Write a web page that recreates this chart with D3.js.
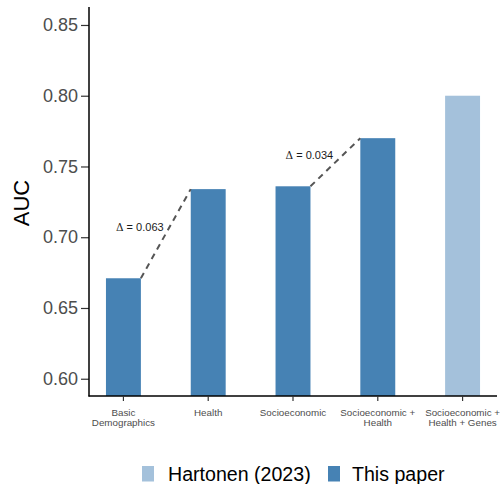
<!DOCTYPE html>
<html><head><meta charset="utf-8">
<script src="https://cdn.jsdelivr.net/npm/d3@7"></script>
<style>body{margin:0;background:#fff;} svg{display:block;font-family:"Liberation Sans",Arial,sans-serif;}</style>
</head><body>
<svg id="c" width="501" height="484"></svg>
<script>
const categories = [["Basic","Demographics"],["Health"],["Socioeconomic"],["Socioeconomic +","Health"],["Socioeconomic +","Health + Genes"]];
const values = [0.671, 0.734, 0.736, 0.770, 0.800];
const sources = ["This paper","This paper","This paper","This paper","Hartonen (2023)"];
const yTicks = [0.60, 0.65, 0.70, 0.75, 0.80, 0.85];
const legendLabels = ["Hartonen (2023)", "This paper"];
const deltas = [{from:0,to:1,value:"0.063"},{from:2,to:3,value:"0.034"}];

(function(){
const colors = {"Hartonen (2023)":"#a4c1db","This paper":"#4682b4"};
const svg = d3.select("#c");
const mL = 89, mR = 497, mT = 7, mB = 396;

const x = d3.scaleBand().domain(d3.range(categories.length)).range([mL, mR]).paddingInner(0.588).paddingOuter(0.2);
const y = d3.scaleLinear().domain([0.5878, 0.8627]).range([mB, mT]);
const cx = i => x(i) + x.bandwidth()/2;
const bw = x.bandwidth();

svg.selectAll("rect.bar").data(values).join("rect")
  .attr("x",(d,i)=>x(i)).attr("width",bw)
  .attr("y",d=>y(d)).attr("height",d=>mB-y(d))
  .attr("fill",(d,i)=>colors[sources[i]]);

deltas.forEach(dl=>{
  svg.append("line")
    .attr("x1",x(dl.from)+bw).attr("y1",y(values[dl.from]))
    .attr("x2",x(dl.to)).attr("y2",y(values[dl.to]))
    .attr("stroke","#555").attr("stroke-width",2).attr("stroke-dasharray","6,5");
  const mx = (cx(dl.from)+cx(dl.to))/2 - 26, my = (y(values[dl.from])+y(values[dl.to]))/2 - 3;
  const t = svg.append("text").attr("x",mx).attr("y",my).attr("text-anchor","middle")
    .attr("font-size",11).attr("fill","#1a1a1a");
  t.append("tspan").attr("font-family","DejaVu Serif, Liberation Serif, serif").attr("font-size",10.5).text("\u0394");
  t.append("tspan").text(" = " + dl.value);
});

const yAxis = d3.axisLeft(y).tickValues(yTicks).tickFormat(d3.format(".2f")).tickSize(8).tickPadding(3);
const ga = svg.append("g").attr("transform",`translate(${mL},0)`).call(yAxis);
ga.select(".domain").remove();
ga.selectAll("text").attr("font-size",18).attr("fill","#4d4d4d").attr("font-family","Liberation Sans, Arial, sans-serif");
ga.selectAll("line").attr("stroke","#333").attr("stroke-width",1.2);
svg.append("line").attr("x1",mL).attr("x2",mL).attr("y1",mT).attr("y2",mB+0.5).attr("stroke","#000").attr("stroke-width",1.5);
svg.append("line").attr("x1",mL-0.5).attr("x2",mR).attr("y1",mB).attr("y2",mB).attr("stroke","#000").attr("stroke-width",1.5);

const xAxis = d3.axisBottom(x).tickSize(5).tickFormat("");
const gx = svg.append("g").attr("transform",`translate(0,${mB})`).call(xAxis);
gx.select(".domain").remove();
gx.selectAll("line").attr("stroke","#333").attr("stroke-width",1.2);
categories.forEach((c,i)=>{
  const t = svg.append("text").attr("text-anchor","middle").attr("font-size",9.8).attr("fill","#4d4d4d");
  c.forEach((line,k)=>t.append("tspan").attr("x",cx(i)).attr("y",415.5+k*10.7).text(line));
});

svg.append("text").attr("transform",`translate(29,203) rotate(-90)`).attr("text-anchor","middle")
  .attr("font-size",22).attr("fill","#000").text("AUC");

const lg = svg.append("g");
const lx = [142, 328];
const tx = [168, 352];
legendLabels.forEach((l,i)=>{
  lg.append("rect").attr("x",lx[i]).attr("y",466).attr("width",12).attr("height",15.5).attr("fill",colors[l]);
  lg.append("text").attr("x",tx[i]).attr("y",481).attr("font-size",19.6).attr("fill","#000").text(l);
});
})();
</script>
</body></html>
